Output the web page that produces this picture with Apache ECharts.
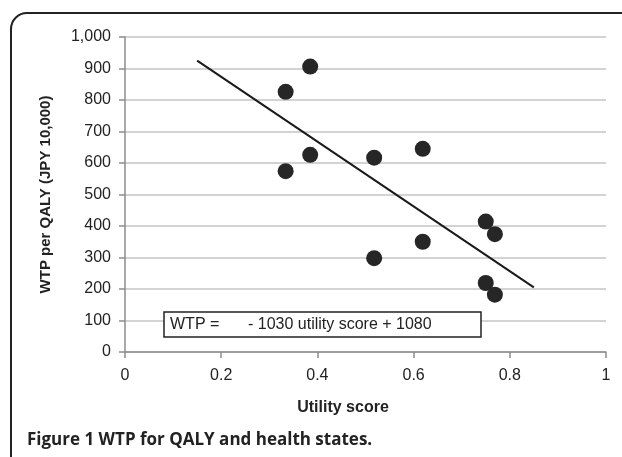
<!DOCTYPE html>
<html>
<head>
<meta charset="utf-8">
<script src="https://cdn.jsdelivr.net/npm/echarts@6/dist/echarts.min.js"></script>
<style>
html,body{margin:0;padding:0;background:#fff;}
#chart{width:622px;height:457px;}
</style>
</head>
<body>
<div id="chart"></div>
<script>
// Data
var utilityScore = [0.385, 0.334, 0.385, 0.334, 0.518, 0.619, 0.518, 0.619, 0.750, 0.769, 0.750, 0.769];
var wtpPerQaly   = [906,   826,   626,   574,   617,   645,   298,   350,   414,   374,   219,   182];
var trendX = [0.15, 0.85];
var trendY = [925, 205];
var xTicks = ['0', '0.2', '0.4', '0.6', '0.8', '1'];
var yTicks = ['0', '100', '200', '300', '400', '500', '600', '700', '800', '900', '1,000'];
var equationLeft = 'WTP =';
var equationRight = '- 1030 utility score + 1080';
var xTitle = 'Utility score';
var yTitle = 'WTP per QALY (JPY 10,000)';
var caption = 'Figure 1 WTP for QALY and health states.';

var scatterData = utilityScore.map(function (x, i) { return [x, wtpPerQaly[i]]; });
var lineData = trendX.map(function (x, i) { return [x, trendY[i]]; });

var chart = echarts.init(document.getElementById('chart'), null, {renderer: 'canvas'});
var font = 'Liberation Sans, Arial, sans-serif';
chart.setOption({
  animation: false,
  backgroundColor: '#fff',
  grid: {left: 125, right: 16, top: 37, bottom: 105, containLabel: false},
  xAxis: {
    type: 'value', min: 0, max: 1, interval: 0.2,
    axisLine: {show: true, lineStyle: {color: '#8c8c8c', width: 1.5}},
    axisTick: {show: true, length: 6, lineStyle: {color: '#8c8c8c', width: 1.5}},
    splitLine: {show: false},
    axisLabel: {
      margin: 16, fontSize: 16, color: '#222', fontFamily: font,
      formatter: function (v) { return xTicks[Math.round(v / 0.2)]; }
    }
  },
  yAxis: {
    type: 'value', min: 0, max: 1000, interval: 100,
    name: yTitle, nameLocation: 'middle', nameGap: 72,
    nameTextStyle: {fontSize: 15, fontWeight: 'bold', color: '#222', fontFamily: font},
    axisLine: {show: true, lineStyle: {color: '#8c8c8c', width: 1.5}},
    axisTick: {show: true, length: 6, lineStyle: {color: '#8c8c8c', width: 1.5}},
    splitLine: {show: true, lineStyle: {color: '#c4c4c4', width: 1.5}},
    axisLabel: {
      margin: 14, fontSize: 16, color: '#222', fontFamily: font,
      formatter: function (v) { return yTicks[Math.round(v / 100)]; }
    }
  },
  series: [
    {
      type: 'line', data: lineData, symbol: 'none', silent: true,
      lineStyle: {color: '#1a1a1a', width: 2}, z: 3
    },
    {
      type: 'scatter', data: scatterData, symbol: 'circle', symbolSize: 16,
      itemStyle: {color: '#262626', opacity: 1}, z: 4
    }
  ],
  graphic: [
    {
      type: 'rect', z: 0, silent: true,
      shape: {x: 11, y: 13, width: 700, height: 520, r: 16},
      style: {fill: null, stroke: '#222', lineWidth: 2}
    },
    {
      type: 'rect', z: 10,
      shape: {x: 164, y: 312, width: 317, height: 25},
      style: {fill: '#fff', stroke: '#222', lineWidth: 1.5}
    },
    {
      type: 'text', z: 11, x: 170, y: 325,
      style: {text: equationLeft, fontSize: 16, fontFamily: font, fill: '#222', verticalAlign: 'middle', align: 'left'}
    },
    {
      type: 'text', z: 11, x: 248, y: 325,
      style: {text: equationRight, fontSize: 16, fontFamily: font, fill: '#222', verticalAlign: 'middle', align: 'left'}
    },
    {
      type: 'text', z: 11, x: 343, y: 408,
      style: {text: xTitle, fontSize: 16, fontWeight: 'bold', fontFamily: font, fill: '#222', verticalAlign: 'middle', align: 'center'}
    },
    {
      type: 'text', z: 11, x: 27, y: 440,
      style: {text: caption, fontSize: 17, fontWeight: 'bold', fontFamily: 'Open Sans, sans-serif', fill: '#222', verticalAlign: 'middle', align: 'left'}
    }
  ]
});
</script>
</body>
</html>
